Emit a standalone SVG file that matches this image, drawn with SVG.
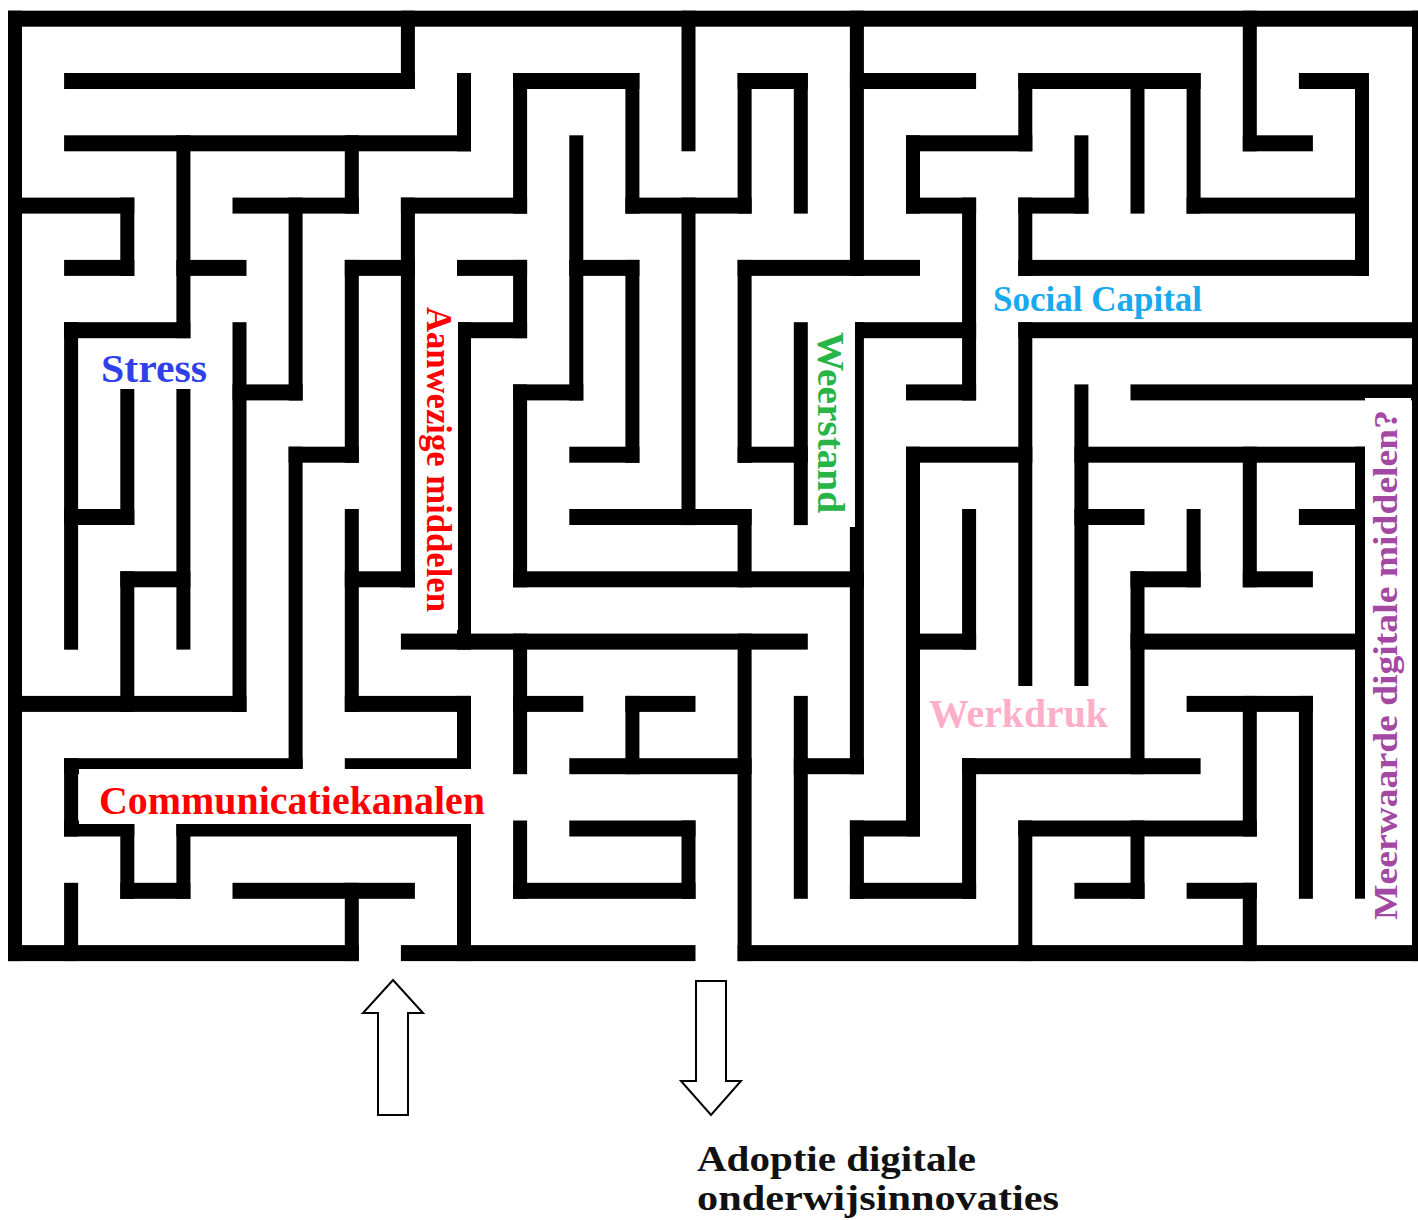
<svg xmlns="http://www.w3.org/2000/svg" width="1418" height="1220" viewBox="0 0 1418 1220">
  <style>
    .h { fill: #000; height: 16px; }
    .v { fill: #000; width: 14px; }
    .bg { fill: #fff; }
    .lbl { font-family: "Liberation Serif", "Times New Roman", serif; font-weight: bold; }
    .arrow { fill: #fff; stroke: #000; stroke-width: 2; stroke-linejoin: miter; }
  </style>
  <rect width="1418" height="1220" fill="#fff"/>

  <!-- Maze walls: grid columns at x = 15 + 56.125*i, rows at y = 18.7 + 62.29*j -->
  <g id="maze-walls">
    <!-- outer frame -->
    <rect class="h" x="8" y="10.7" width="1417" height="16"/>
    <rect class="h" x="8" y="945.1" width="350.8" height="16"/>
    <rect class="h" x="400.9" y="945.1" width="294.6" height="16"/>
    <rect class="h" x="737.6" y="945.1" width="687.5" height="16"/>
    <rect class="v" x="8" y="10.7" width="14" height="950.4"/>
    <rect class="v" x="1412" y="10.7" width="14" height="950.4"/>

    <!-- horizontal walls, row 1 -->
    <rect class="h" x="64.1" y="73" width="350.8" height="16"/>
    <rect class="h" x="513.1" y="73" width="126.3" height="16"/>
    <rect class="h" x="737.6" y="73" width="70.2" height="16"/>
    <rect class="h" x="849.9" y="73" width="126.2" height="16"/>
    <rect class="h" x="1018.3" y="73" width="182.3" height="16"/>
    <rect class="h" x="1298.9" y="73" width="70.1" height="16"/>
    <!-- row 2 -->
    <rect class="h" x="64.1" y="135.3" width="406.9" height="16"/>
    <rect class="h" x="906" y="135.3" width="126.3" height="16"/>
    <rect class="h" x="1242.8" y="135.3" width="70.1" height="16"/>
    <!-- row 3 -->
    <rect class="h" x="8" y="197.6" width="126.3" height="16"/>
    <rect class="h" x="232.5" y="197.6" width="126.3" height="16"/>
    <rect class="h" x="400.9" y="197.6" width="126.2" height="16"/>
    <rect class="h" x="625.4" y="197.6" width="126.2" height="16"/>
    <rect class="h" x="906" y="197.6" width="70.1" height="16"/>
    <rect class="h" x="1018.3" y="197.6" width="70.1" height="16"/>
    <rect class="h" x="1186.6" y="197.6" width="182.4" height="16"/>
    <!-- row 4 -->
    <rect class="h" x="64.1" y="259.9" width="70.2" height="16"/>
    <rect class="h" x="176.4" y="259.9" width="70.1" height="16"/>
    <rect class="h" x="344.8" y="259.9" width="70.1" height="16"/>
    <rect class="h" x="457" y="259.9" width="70.1" height="16"/>
    <rect class="h" x="569.3" y="259.9" width="70.1" height="16"/>
    <rect class="h" x="737.6" y="259.9" width="182.4" height="16"/>
    <rect class="h" x="1018.3" y="259.9" width="350.7" height="16"/>
    <!-- row 5 -->
    <rect class="h" x="64.1" y="322.2" width="126.3" height="16"/>
    <rect class="h" x="457" y="322.2" width="70.1" height="16"/>
    <rect class="h" x="849.9" y="322.2" width="126.2" height="16"/>
    <rect class="h" x="1018.3" y="322.2" width="406.8" height="16"/>
    <!-- row 6 -->
    <rect class="h" x="232.5" y="384.4" width="70.1" height="16"/>
    <rect class="h" x="513.1" y="384.4" width="70.2" height="16"/>
    <rect class="h" x="906" y="384.4" width="70.1" height="16"/>
    <rect class="h" x="1130.5" y="384.4" width="294.6" height="16"/>
    <!-- row 7 -->
    <rect class="h" x="288.6" y="446.7" width="70.2" height="16"/>
    <rect class="h" x="569.3" y="446.7" width="70.1" height="16"/>
    <rect class="h" x="737.6" y="446.7" width="70.2" height="16"/>
    <rect class="h" x="906" y="446.7" width="126.3" height="16"/>
    <rect class="h" x="1074.4" y="446.7" width="294.6" height="16"/>
    <!-- row 8 -->
    <rect class="h" x="64.1" y="509" width="70.2" height="16"/>
    <rect class="h" x="569.3" y="509" width="182.3" height="16"/>
    <rect class="h" x="1074.4" y="509" width="70.1" height="16"/>
    <rect class="h" x="1298.9" y="509" width="70.1" height="16"/>
    <!-- row 9 -->
    <rect class="h" x="120.3" y="571.3" width="70.1" height="16"/>
    <rect class="h" x="344.8" y="571.3" width="70.1" height="16"/>
    <rect class="h" x="513.1" y="571.3" width="350.8" height="16"/>
    <rect class="h" x="1130.5" y="571.3" width="70.1" height="16"/>
    <rect class="h" x="1242.8" y="571.3" width="70.1" height="16"/>
    <!-- row 10 -->
    <rect class="h" x="400.9" y="633.6" width="406.9" height="16"/>
    <rect class="h" x="906" y="633.6" width="70.1" height="16"/>
    <rect class="h" x="1130.5" y="633.6" width="238.5" height="16"/>
    <!-- row 11 -->
    <rect class="h" x="8" y="695.9" width="238.5" height="16"/>
    <rect class="h" x="344.8" y="695.9" width="126.2" height="16"/>
    <rect class="h" x="513.1" y="695.9" width="70.2" height="16"/>
    <rect class="h" x="625.4" y="695.9" width="70.1" height="16"/>
    <rect class="h" x="1186.6" y="695.9" width="126.3" height="16"/>
    <!-- row 12 -->
    <rect class="h" x="64.1" y="758.2" width="238.5" height="16"/>
    <rect class="h" x="344.8" y="758.2" width="126.2" height="16"/>
    <rect class="h" x="569.3" y="758.2" width="182.3" height="16"/>
    <rect class="h" x="793.8" y="758.2" width="70.1" height="16"/>
    <rect class="h" x="962.1" y="758.2" width="238.5" height="16"/>
    <!-- row 13 -->
    <rect class="h" x="64.1" y="820.5" width="70.2" height="16"/>
    <rect class="h" x="176.4" y="820.5" width="294.6" height="16"/>
    <rect class="h" x="569.3" y="820.5" width="126.2" height="16"/>
    <rect class="h" x="849.9" y="820.5" width="70.1" height="16"/>
    <rect class="h" x="1018.3" y="820.5" width="238.5" height="16"/>
    <!-- row 14 -->
    <rect class="h" x="120.3" y="882.8" width="70.1" height="16"/>
    <rect class="h" x="232.5" y="882.8" width="182.4" height="16"/>
    <rect class="h" x="513.1" y="882.8" width="182.4" height="16"/>
    <rect class="h" x="849.9" y="882.8" width="126.2" height="16"/>
    <rect class="h" x="1074.4" y="882.8" width="70.1" height="16"/>
    <rect class="h" x="1186.6" y="882.8" width="70.2" height="16"/>

    <!-- vertical walls, column 1 -->
    <rect class="v" x="64.1" y="322.2" width="14" height="327.5"/>
    <rect class="v" x="64.1" y="758.2" width="14" height="78.3"/>
    <rect class="v" x="64.1" y="882.8" width="14" height="78.3"/>
    <!-- column 2 -->
    <rect class="v" x="120.3" y="197.6" width="14" height="78.3"/>
    <rect class="v" x="120.3" y="384.4" width="14" height="140.6"/>
    <rect class="v" x="120.3" y="571.3" width="14" height="140.6"/>
    <rect class="v" x="120.3" y="820.5" width="14" height="78.3"/>
    <!-- column 3 -->
    <rect class="v" x="176.4" y="135.3" width="14" height="202.9"/>
    <rect class="v" x="176.4" y="384.4" width="14" height="265.2"/>
    <rect class="v" x="176.4" y="820.5" width="14" height="78.3"/>
    <!-- column 4 -->
    <rect class="v" x="232.5" y="322.2" width="14" height="389.7"/>
    <!-- column 5 -->
    <rect class="v" x="288.6" y="197.6" width="14" height="202.9"/>
    <rect class="v" x="288.6" y="446.7" width="14" height="327.5"/>
    <!-- column 6 -->
    <rect class="v" x="344.8" y="135.3" width="14" height="78.3"/>
    <rect class="v" x="344.8" y="259.9" width="14" height="202.9"/>
    <rect class="v" x="344.8" y="509" width="14" height="202.9"/>
    <rect class="v" x="344.8" y="882.8" width="14" height="78.3"/>
    <!-- column 7 -->
    <rect class="v" x="400.9" y="10.7" width="14" height="78.3"/>
    <rect class="v" x="400.9" y="197.6" width="14" height="389.7"/>
    <!-- column 8 -->
    <rect class="v" x="457" y="73" width="14" height="78.3"/>
    <rect class="v" x="457" y="322.2" width="14" height="327.5"/>
    <rect class="v" x="457" y="695.9" width="14" height="78.3"/>
    <rect class="v" x="457" y="820.5" width="14" height="140.6"/>
    <!-- column 9 -->
    <rect class="v" x="513.1" y="73" width="14" height="140.6"/>
    <rect class="v" x="513.1" y="259.9" width="14" height="78.3"/>
    <rect class="v" x="513.1" y="384.4" width="14" height="202.9"/>
    <rect class="v" x="513.1" y="633.6" width="14" height="140.6"/>
    <rect class="v" x="513.1" y="820.5" width="14" height="78.3"/>
    <!-- column 10 -->
    <rect class="v" x="569.3" y="135.3" width="14" height="265.2"/>
    <!-- column 11 -->
    <rect class="v" x="625.4" y="73" width="14" height="140.6"/>
    <rect class="v" x="625.4" y="259.9" width="14" height="202.9"/>
    <rect class="v" x="625.4" y="695.9" width="14" height="78.3"/>
    <!-- column 12 -->
    <rect class="v" x="681.5" y="10.7" width="14" height="140.6"/>
    <rect class="v" x="681.5" y="197.6" width="14" height="327.5"/>
    <rect class="v" x="681.5" y="820.5" width="14" height="78.3"/>
    <!-- column 13 -->
    <rect class="v" x="737.6" y="73" width="14" height="140.6"/>
    <rect class="v" x="737.6" y="259.9" width="14" height="202.9"/>
    <rect class="v" x="737.6" y="509" width="14" height="78.3"/>
    <rect class="v" x="737.6" y="633.6" width="14" height="327.5"/>
    <!-- column 14 -->
    <rect class="v" x="793.8" y="73" width="14" height="140.6"/>
    <rect class="v" x="793.8" y="322.2" width="14" height="202.9"/>
    <rect class="v" x="793.8" y="695.9" width="14" height="202.9"/>
    <!-- column 15 -->
    <rect class="v" x="849.9" y="10.7" width="14" height="265.2"/>
    <rect class="v" x="849.9" y="322.2" width="14" height="452"/>
    <rect class="v" x="849.9" y="820.5" width="14" height="78.3"/>
    <!-- column 16 -->
    <rect class="v" x="906" y="135.3" width="14" height="78.3"/>
    <rect class="v" x="906" y="446.7" width="14" height="389.7"/>
    <!-- column 17 -->
    <rect class="v" x="962.1" y="197.6" width="14" height="202.9"/>
    <rect class="v" x="962.1" y="509" width="14" height="140.6"/>
    <rect class="v" x="962.1" y="758.2" width="14" height="140.6"/>
    <!-- column 18 -->
    <rect class="v" x="1018.3" y="73" width="14" height="78.3"/>
    <rect class="v" x="1018.3" y="197.6" width="14" height="78.3"/>
    <rect class="v" x="1018.3" y="322.2" width="14" height="389.7"/>
    <rect class="v" x="1018.3" y="820.5" width="14" height="140.6"/>
    <!-- column 19 -->
    <rect class="v" x="1074.4" y="135.3" width="14" height="78.3"/>
    <rect class="v" x="1074.4" y="384.4" width="14" height="327.5"/>
    <!-- column 20 -->
    <rect class="v" x="1130.5" y="73" width="14" height="140.6"/>
    <rect class="v" x="1130.5" y="571.3" width="14" height="202.9"/>
    <rect class="v" x="1130.5" y="820.5" width="14" height="78.3"/>
    <!-- column 21 -->
    <rect class="v" x="1186.6" y="73" width="14" height="140.6"/>
    <rect class="v" x="1186.6" y="509" width="14" height="78.3"/>
    <!-- column 22 -->
    <rect class="v" x="1242.8" y="10.7" width="14" height="140.6"/>
    <rect class="v" x="1242.8" y="446.7" width="14" height="140.6"/>
    <rect class="v" x="1242.8" y="695.9" width="14" height="140.6"/>
    <rect class="v" x="1242.8" y="882.8" width="14" height="78.3"/>
    <!-- column 23 -->
    <rect class="v" x="1298.9" y="695.9" width="14" height="202.9"/>
    <!-- column 24 -->
    <rect class="v" x="1355" y="73" width="14" height="202.9"/>
    <rect class="v" x="1355" y="446.7" width="14" height="452"/>
  </g>

  <!-- Labels, each on its own white backing -->
  <g id="label-stress">
    <rect class="bg" x="96" y="342" width="116" height="47"/>
    <text class="lbl" x="101" y="382" font-size="41" fill="#3040E8" textLength="106" lengthAdjust="spacingAndGlyphs">Stress</text>
  </g>
  <g id="label-aanwezige-middelen">
    <rect class="bg" x="415" y="300" width="43" height="330"/>
    <text class="lbl" transform="translate(427,307) rotate(90)" font-size="35" fill="#FF0000" textLength="305" lengthAdjust="spacingAndGlyphs">Aanwezige middelen</text>
  </g>
  <g id="label-weerstand">
    <rect class="bg" x="808" y="316" width="47" height="211"/>
    <text class="lbl" transform="translate(818,332) rotate(90)" font-size="38" fill="#28B446" textLength="181" lengthAdjust="spacingAndGlyphs">Weerstand</text>
  </g>
  <g id="label-social-capital">
    <rect class="bg" x="985" y="276" width="224" height="46"/>
    <text class="lbl" x="993" y="310.5" font-size="35" fill="#19A9EC" textLength="209" lengthAdjust="spacingAndGlyphs">Social Capital</text>
  </g>
  <g id="label-communicatiekanalen">
    <rect class="bg" x="79" y="769" width="407" height="55"/>
    <text class="lbl" x="99" y="814" font-size="40" fill="#FF0000" textLength="386" lengthAdjust="spacingAndGlyphs">Communicatiekanalen</text>
  </g>
  <g id="label-werkdruk">
    <rect class="bg" x="921" y="686" width="200" height="54"/>
    <text class="lbl" x="929" y="727" font-size="39" fill="#FFAEC9" textLength="179" lengthAdjust="spacingAndGlyphs">Werkdruk</text>
  </g>
  <g id="label-meerwaarde">
    <rect class="bg" x="1365" y="398" width="46" height="527"/>
    <text class="lbl" transform="translate(1397,920) rotate(-90)" font-size="34" fill="#A349A4" textLength="510" lengthAdjust="spacingAndGlyphs">Meerwaarde digitale middelen?</text>
  </g>

  <!-- Entry and exit arrows -->
  <g id="arrows">
    <polygon id="arrow-in" class="arrow" points="393,980 423,1013 408,1013 408,1115 378,1115 378,1013 363,1013"/>
    <polygon id="arrow-out" class="arrow" points="696,981 726,981 726,1081 741,1081 711,1115 681,1081 696,1081"/>
  </g>

  <!-- Goal caption under the exit -->
  <g id="label-adoptie">
    <text class="lbl" font-size="36" fill="#111">
      <tspan x="697" y="1171" textLength="279" lengthAdjust="spacingAndGlyphs">Adoptie digitale</tspan>
      <tspan x="697" y="1210" textLength="362" lengthAdjust="spacingAndGlyphs">onderwijsinnovaties</tspan>
    </text>
  </g>
</svg>
